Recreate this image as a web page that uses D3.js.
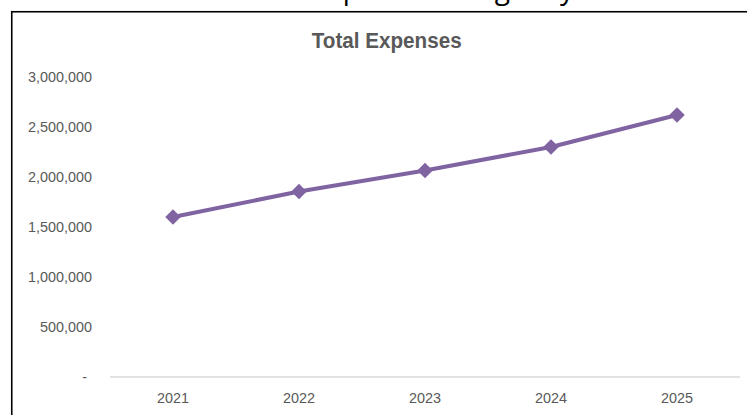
<!DOCTYPE html>
<html>
<head>
<meta charset="utf-8">
<script src="https://cdn.jsdelivr.net/npm/d3@7"></script>
<style>
  html, body { margin: 0; padding: 0; background: #fff; }
  svg { display: block; }
</style>
</head>
<body>
<svg id="chart" width="747" height="415"></svg>
<script>
const years = ["2021", "2022", "2023", "2024", "2025"];
const expenses = [1600000, 1855000, 2065000, 2300000, 2620000];
const yTicks = [0, 500000, 1000000, 1500000, 2000000, 2500000, 3000000];
const chartTitle = "Total Expenses";
const pageHeading = "Total Expenses Budget by Year";

const svg = d3.select("#chart");
const labelColor = "#595959";
const lineColor = "#8064A2";

// heading above the chart, cut off by the top edge as in the reference
svg.append("text")
  .attr("x", 440).attr("y", -1.5)
  .attr("text-anchor", "middle")
  .attr("font-family", "Open Sans, Liberation Sans, sans-serif")
  .attr("font-size", 28)
  .attr("fill", "#000")
  .text(pageHeading);

// chart border
svg.append("rect")
  .attr("x", 11.75).attr("y", 11.75)
  .attr("width", 800).attr("height", 500)
  .attr("fill", "#fff")
  .attr("stroke", "#000")
  .attr("stroke-width", 1.6);

const x = d3.scaleBand().domain(years).range([110, 740]);
const y = d3.scaleLinear().domain([0, 3000000]).range([377, 77]);

// title
svg.append("text")
  .attr("x", 386.7).attr("y", 47.7)
  .attr("text-anchor", "middle")
  .attr("font-family", "Liberation Sans Narrow, Liberation Sans, sans-serif")
  .attr("font-weight", "bold")
  .attr("font-size", 22)
  .attr("textLength", 150)
  .attr("lengthAdjust", "spacingAndGlyphs")
  .attr("fill", labelColor)
  .text(chartTitle);

// y axis labels
const yAxis = d3.axisLeft(y)
  .tickValues(yTicks)
  .tickSize(0)
  .tickPadding(0)
  .tickFormat(d => d === 0 ? "-" : d3.format(",")(d));
const gy = svg.append("g").attr("transform", "translate(92,0)").call(yAxis);
gy.select(".domain").remove();
gy.selectAll("text")
  .attr("font-family", "Liberation Sans, Arial, sans-serif")
  .attr("font-size", 14.4)
  .attr("fill", labelColor)
  .attr("x", d => d === 0 ? -5 : 0);

// x axis baseline
svg.append("line")
  .attr("x1", x.range()[0]).attr("x2", x.range()[1])
  .attr("y1", y(0)).attr("y2", y(0))
  .attr("stroke", "#d9d9d9").attr("stroke-width", 1.5);

const xAxis = d3.axisBottom(x).tickSize(0).tickPadding(16);
const gx = svg.append("g").attr("transform", `translate(0,${y(0)})`).call(xAxis);
gx.select(".domain").remove();
gx.selectAll("text")
  .attr("font-family", "Liberation Sans, Arial, sans-serif")
  .attr("font-size", 14.4)
  .attr("fill", labelColor);

const cx = d => x(d) + x.bandwidth() / 2;
const data = years.map((yr, i) => ({ yr, v: expenses[i] }));

svg.append("path")
  .datum(data)
  .attr("fill", "none")
  .attr("stroke", lineColor)
  .attr("stroke-width", 4)
  .attr("stroke-linejoin", "round")
  .attr("d", d3.line().x(d => cx(d.yr)).y(d => y(d.v)));

const diamond = d3.symbol().type(d3.symbolSquare).size(120);
svg.append("g").selectAll("path")
  .data(data)
  .join("path")
  .attr("d", diamond)
  .attr("fill", lineColor)
  .attr("transform", d => `translate(${cx(d.yr)},${y(d.v)}) rotate(45)`);
</script>
</body>
</html>
